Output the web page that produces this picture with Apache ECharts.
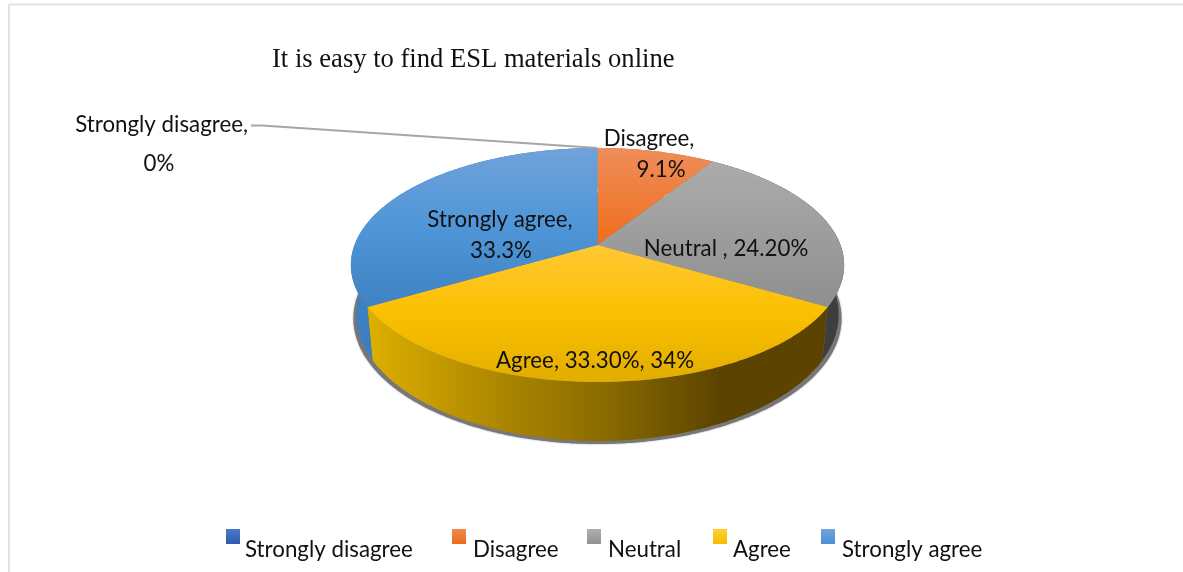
<!DOCTYPE html>
<html><head><meta charset="utf-8">
<style>html,body{margin:0;padding:0;background:#fff}#c{width:1183px;height:572px}</style>
<script src="https://cdn.jsdelivr.net/npm/echarts@6/dist/echarts.min.js"></script>
</head><body><div id="c"></div>
<script>
const titleText = 'It is easy to find ESL materials online';
const categories = ['Strongly disagree','Disagree','Neutral','Agree','Strongly agree'];
const values = [0, 9.1, 24.2, 33.3, 33.3];
const labelLines = [['Strongly disagree,','0%'],['Disagree,','9.1%'],['Neutral , 24.20%'],['Agree, 33.30%, 34%'],['Strongly agree,','33.3%']];

const total = values.reduce((a,b)=>a+b,0);
const topFace = {cx:597.5, cy:245, R:243, H:113.6, k:0.171};
const bottomFace = {cx:597.5, cy:293, R:237.6, H:122.7, k:0.171};
const shadowFace = {cx:597.5, cy:297, R:240.5, H:121.9, k:0.171};
function pt(f,t){const d=1+f.k*Math.cos(t);return [f.cx+f.R*Math.sin(t)/d,f.cy-f.H*Math.cos(t)/d];}
function arc(f,a,b){const n=Math.max(2,Math.ceil((b-a)/0.01)),r=[];for(let i=0;i<=n;i++)r.push(pt(f,a+(b-a)*i/n));return r;}
function span(i){let s=0;for(let j=0;j<i;j++)s+=values[j];return [s/total*2*Math.PI,(s+values[i])/total*2*Math.PI];}
const vgrad=(y0,y1,st)=>({type:'linear',x:0,y:y0,x2:0,y2:y1,global:true,colorStops:st.map((c,i)=>({offset:i/(st.length-1),color:c}))});
const hgrad=(x0,x1,st)=>({type:'linear',x:x0,y:0,x2:x1,y2:0,global:true,colorStops:st.map((c,i)=>({offset:i/(st.length-1),color:c}))});
const iconGrad=(a,b)=>({type:'linear',x:0,y:0,x2:0,y2:1,colorStops:[{offset:0,color:a},{offset:1,color:b}]});
const topFill=[
 vgrad(130,260,['#6f9be0','#2f5fb8']),
 vgrad(148,245,['#ef8d5a','#ee6e1c']),
 vgrad(150,310,['#aeaeae','#8e8e8e']),
 vgrad(245,382,['#ffc835','#fbc000','#e2ad00']),
 vgrad(148,305,['#6fa2da','#4f96d8','#4083c3'])
];
const wallFill=[
 '#2f5597','#c05a14','#3e3e3e',
 hgrad(372,720,['#dcae00','#b08a00','#8a6b00','#5c4400']),
 '#3c80bf'
];
const legendFill=[
 iconGrad('#4f78c8','#2c5bb5'),
 iconGrad('#f08a50','#ec6a1a'),
 iconGrad('#b0b0b0','#909090'),
 iconGrad('#ffcf33','#f8bc00'),
 iconGrad('#6fa5dc','#4c90d2')
];
const legendLeft=[226,452,587,713,821];
const legendTextPad=[0,2,2,1,2];

const series=[];
// shadow + side walls, drawn beneath the top faces
series.push({type:'custom',name:'_walls',coordinateSystem:'none',silent:true,z:1,
  data:values.map(v=>[v]),
  renderItem(p,api){
    const i=p.dataIndex,[a,b]=span(i),children=[];
    if(i===0){
      children.push({type:'polygon',shape:{points:arc(shadowFace,0,2*Math.PI)},
        style:{fill:'#777777',shadowBlur:2,shadowColor:'#a8a8a8'}});
    }
    if(api.value(0)>0){
      const pts=arc(topFace,a,b).concat(arc(bottomFace,a,b).reverse());
      children.push({type:'polygon',shape:{points:pts},style:{fill:wallFill[i]}});
    }
    return {type:'group',children};
  }});
categories.forEach((name,i)=>{
  series.push({type:'custom',name,coordinateSystem:'none',silent:true,z:2+i,
    itemStyle:{color:legendFill[i]},
    data:[[values[i]]],
    renderItem(p,api){
      const [a,b]=span(i);
      if(api.value(0)<=0) return {type:'group',children:[]};
      const pts=[[topFace.cx,topFace.cy]].concat(arc(topFace,a,b));
      return {type:'polygon',shape:{points:pts},style:{fill:topFill[i]}};
    }});
});

const font='Lato';
const fontSize=22.3;
const txt=(s,x,y,align)=>({type:'text',x,y,z:50,style:{text:s,font:fontSize+'px '+font,fill:'#111',textAlign:align||'center',textVerticalAlign:'middle'}});
const graphics=[
 {type:'line',z:0,shape:{x1:9,y1:4.5,x2:1183,y2:4.5},style:{stroke:'#e2e2e2',lineWidth:2}},
 {type:'line',z:0,shape:{x1:9,y1:4,x2:9,y2:572},style:{stroke:'#e2e2e2',lineWidth:2}},
 {type:'polyline',z:50,shape:{points:[[251,125.5],[262,125.5],[597.5,148]]},style:{stroke:'#a6a6a6',lineWidth:2,fill:'none'}},
 txt(labelLines[0][0],248,125,'right'),txt(labelLines[0][1],159,164),
 txt(labelLines[1][0],649,139),txt(labelLines[1][1],661,170),
 txt(labelLines[2][0],726,249),
 txt(labelLines[3][0],595,361),
 txt(labelLines[4][0],500,220),txt(labelLines[4][1],501,251)
];

const chart=echarts.init(document.getElementById('c'),null,{renderer:'canvas'});
chart.setOption({
  animation:false,
  backgroundColor:'#fff',
  title:{text:titleText,left:272,top:47,padding:0,textStyle:{fontFamily:'Liberation Serif',fontSize:26.6,fontWeight:'normal',color:'#111'}},
  legend:categories.map((name,i)=>({
    data:[name],left:legendLeft[i],top:529,padding:0,itemWidth:14,itemHeight:15,itemGap:0,icon:'rect',
    selectedMode:false,
    formatter:'{t|{name}}',
    textStyle:{rich:{t:{fontFamily:font,fontSize:fontSize,color:'#111',padding:[26,0,0,legendTextPad[i]]}}}
  })),
  series,
  graphic:graphics
});
</script></body></html>
